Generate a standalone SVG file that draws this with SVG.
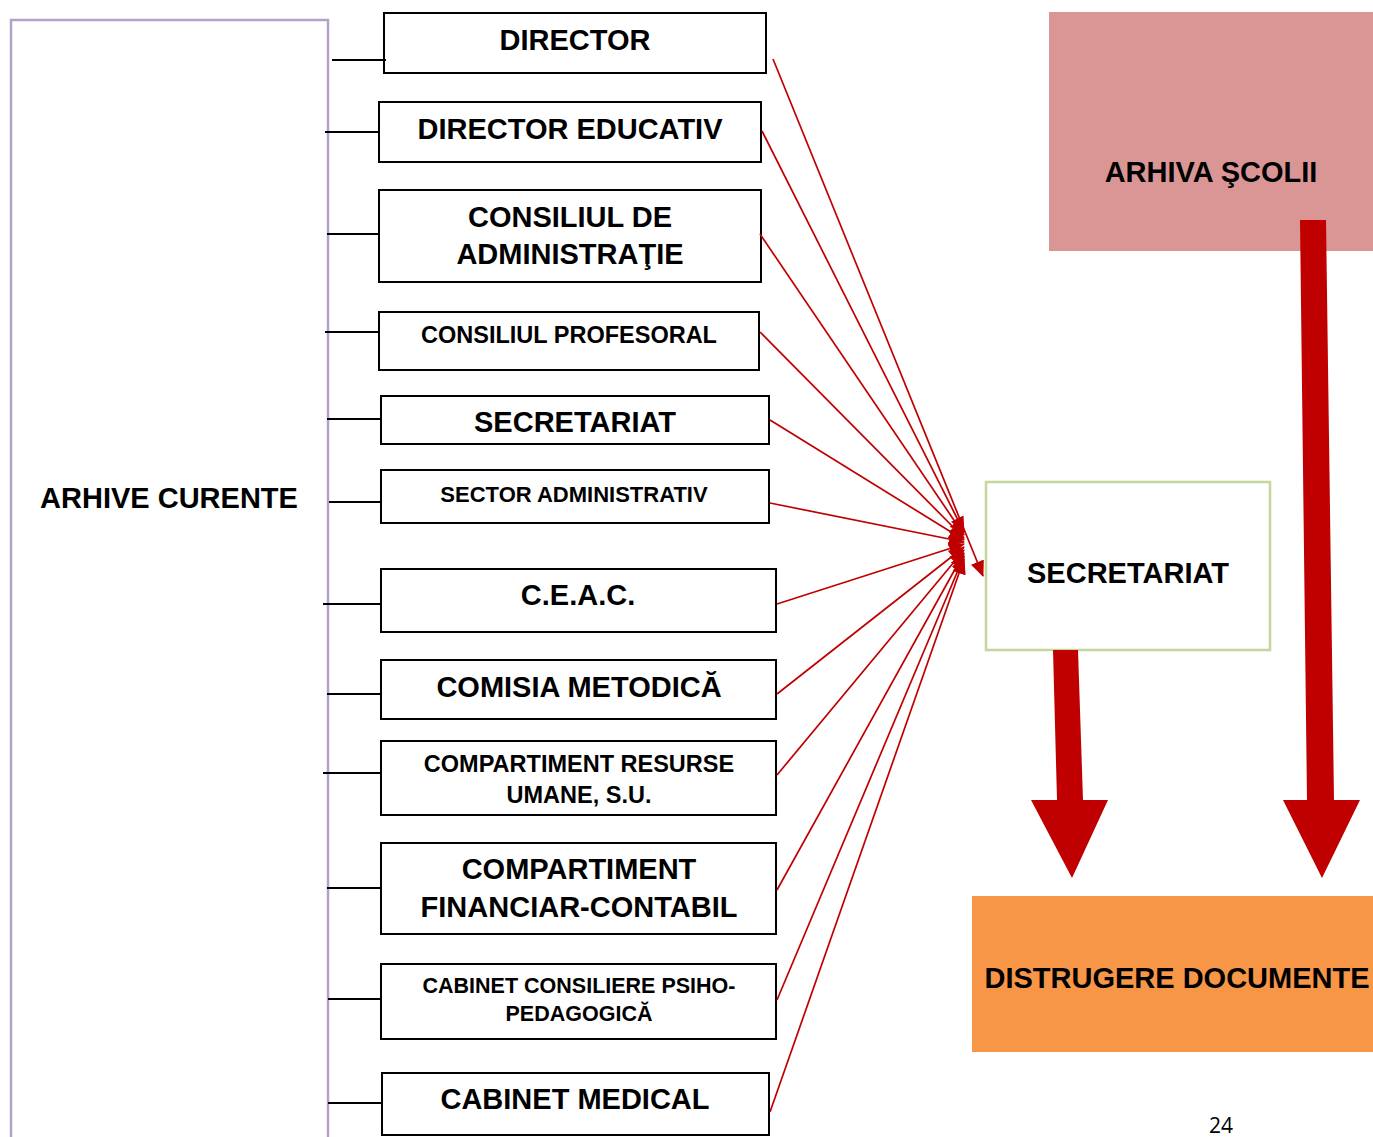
<svg xmlns="http://www.w3.org/2000/svg" width="1373" height="1137" viewBox="0 0 1373 1137">
<defs>
<style>
.box{fill:#fff;stroke:#000;stroke-width:2}
.t{font-family:"Liberation Sans",Arial,sans-serif;font-weight:bold;fill:#000;text-anchor:middle}
.big{font-size:29px}
.c{stroke:#000;stroke-width:1.8;fill:none}
.r{stroke:#c00000;stroke-width:1.7;fill:none;marker-end:url(#ah)}
</style>
<marker id="ah" viewBox="0 0 16 14" refX="15" refY="7" markerWidth="16" markerHeight="14" markerUnits="userSpaceOnUse" orient="auto">
<path d="M0,0 L16,7 L0,14 Z" fill="#c00000"/>
</marker>
</defs>
<rect width="1373" height="1137" fill="#fff"/>

<g id="arhive-curente">
<path d="M11,1140 L11,20 L328,20 L328,1140" fill="none" stroke="#b3a2c7" stroke-width="2.5"/>
<text class="t big" x="169" y="508">ARHIVE CURENTE</text>
</g>

<g id="director"><rect class="box" x="384" y="13" width="382" height="60"/><text class="t big" x="575" y="50">DIRECTOR</text></g>
<g id="director-educativ"><rect class="box" x="379" y="102" width="382" height="60"/><text class="t big" x="570" y="139">DIRECTOR EDUCATIV</text></g>
<g id="consiliul-administratie"><rect class="box" x="379" y="190" width="382" height="92"/><text class="t big" x="570" y="227">CONSILIUL DE</text><text class="t big" x="570" y="264">ADMINISTRAŢIE</text></g>
<g id="consiliul-profesoral"><rect class="box" x="379" y="312" width="380" height="58"/><text class="t" font-size="23.5" x="569" y="343">CONSILIUL PROFESORAL</text></g>
<g id="secretariat-left"><rect class="box" x="381" y="396" width="388" height="48"/><text class="t big" x="575" y="432">SECRETARIAT</text></g>
<g id="sector-administrativ"><rect class="box" x="381" y="470" width="388" height="53"/><text class="t" font-size="22" x="574" y="502">SECTOR ADMINISTRATIV</text></g>
<g id="ceac"><rect class="box" x="381" y="569" width="395" height="63"/><text class="t big" x="578" y="605">C.E.A.C.</text></g>
<g id="comisia-metodica"><rect class="box" x="381" y="660" width="395" height="59"/><text class="t big" x="579" y="697">COMISIA METODICĂ</text></g>
<g id="compartiment-resurse"><rect class="box" x="381" y="741" width="395" height="74"/><text class="t" font-size="23.5" x="579" y="772">COMPARTIMENT RESURSE</text><text class="t" font-size="23.5" x="579" y="803">UMANE, S.U.</text></g>
<g id="compartiment-financiar"><rect class="box" x="381" y="843" width="395" height="91"/><text class="t big" x="579" y="879">COMPARTIMENT</text><text class="t big" x="579" y="917">FINANCIAR-CONTABIL</text></g>
<g id="cabinet-consiliere"><rect class="box" x="381" y="964" width="395" height="75"/><text class="t" font-size="21.5" x="579" y="993">CABINET CONSILIERE PSIHO-</text><text class="t" font-size="21.5" x="579" y="1021">PEDAGOGICĂ</text></g>
<g id="cabinet-medical"><rect class="box" x="382" y="1073" width="387" height="62"/><text class="t big" x="575" y="1109">CABINET MEDICAL</text></g>

<g id="arhiva-scolii"><rect x="1049" y="12" width="324" height="239" fill="#d99694"/><text class="t big" x="1211" y="182">ARHIVA ŞCOLII</text></g>
<g id="secretariat-right"><rect x="986" y="482" width="284" height="168" fill="#fff" stroke="#c3d69b" stroke-width="2.5"/><text class="t big" x="1128" y="583">SECRETARIAT</text></g>
<g id="distrugere-documente"><rect x="972" y="896" width="401" height="156" fill="#f79646"/><text class="t big" x="1177" y="988">DISTRUGERE DOCUMENTE</text></g>

<g id="connectors">
<line class="c" x1="332" y1="60" x2="386" y2="60"/>
<line class="c" x1="325" y1="132" x2="379" y2="132"/>
<line class="c" x1="327" y1="234" x2="379" y2="234"/>
<line class="c" x1="325" y1="332" x2="379" y2="332"/>
<line class="c" x1="327" y1="419" x2="381" y2="419"/>
<line class="c" x1="329" y1="502" x2="381" y2="502"/>
<line class="c" x1="323" y1="604" x2="381" y2="604"/>
<line class="c" x1="327" y1="694" x2="381" y2="694"/>
<line class="c" x1="323" y1="773" x2="381" y2="773"/>
<line class="c" x1="327" y1="888" x2="381" y2="888"/>
<line class="c" x1="328" y1="999" x2="381" y2="999"/>
<line class="c" x1="328" y1="1103" x2="382" y2="1103"/>

<line class="r" x1="773" y1="59" x2="983" y2="576"/>
<line class="r" x1="762" y1="131" x2="964" y2="532"/>
<line class="r" x1="760" y1="234" x2="964" y2="535"/>
<line class="r" x1="760" y1="332" x2="964" y2="538"/>
<line class="r" x1="770" y1="420" x2="964" y2="540"/>
<line class="r" x1="770" y1="503" x2="964" y2="542"/>
<line class="r" x1="777" y1="604" x2="964" y2="544"/>
<line class="r" x1="777" y1="694" x2="964" y2="547"/>
<line class="r" x1="777" y1="775" x2="964" y2="550"/>
<line class="r" x1="777" y1="890" x2="964" y2="553"/>
<line class="r" x1="777" y1="1000" x2="964" y2="556"/>
<line class="r" x1="770" y1="1112" x2="964" y2="559"/>

<polygon points="1300,220 1326,220 1334,800 1360,800 1322,878 1283,800 1307,800" fill="#c00000"/>
<polygon points="1053,650 1078,650 1083,800 1108,800 1072,878 1031,800 1057,800" fill="#c00000"/>
</g>

<text x="1221" y="1133" font-family="'Open Sans','Liberation Sans',sans-serif" font-size="21" text-anchor="middle" fill="#000">24</text>
</svg>
